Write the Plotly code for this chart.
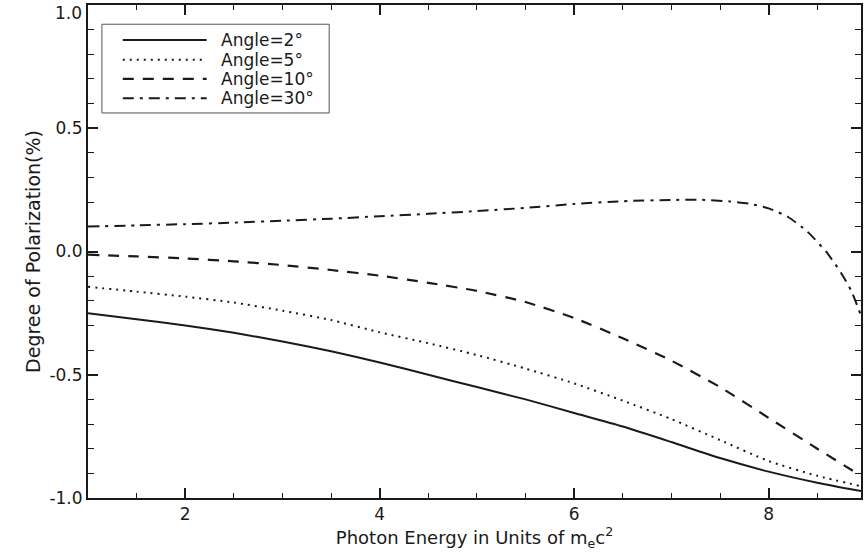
import plotly.graph_objects as go

# ---- data ----
x_common = [1.0, 1.5, 2.0, 2.5, 3.0, 3.5, 4.0, 4.5, 5.0, 5.5, 6.0, 6.5, 7.0, 7.5, 8.0, 8.5, 8.95]
pol_2deg = [-0.25, -0.275, -0.30, -0.33, -0.365, -0.405, -0.45, -0.50, -0.55, -0.60,
            -0.655, -0.71, -0.773, -0.838, -0.893, -0.938, -0.972]
pol_5deg = [-0.143, -0.163, -0.183, -0.207, -0.24, -0.278, -0.328, -0.372, -0.42, -0.475,
            -0.535, -0.605, -0.68, -0.765, -0.85, -0.91, -0.952]
pol_10deg = [-0.013, -0.02, -0.028, -0.04, -0.055, -0.075, -0.098, -0.127, -0.16, -0.205,
             -0.27, -0.352, -0.443, -0.55, -0.675, -0.80, -0.91]
x_30deg = [1.0, 1.5, 2.0, 2.5, 3.0, 3.5, 4.0, 4.5, 5.0, 5.5, 6.0, 6.5, 7.0, 7.3, 7.6,
           7.8, 8.0, 8.2, 8.4, 8.6, 8.75, 8.85, 8.95]
pol_30deg = [0.101, 0.106, 0.111, 0.117, 0.125, 0.133, 0.143, 0.153, 0.164, 0.177, 0.193,
             0.204, 0.209, 0.21, 0.203, 0.194, 0.175, 0.14, 0.08, -0.005, -0.09, -0.16, -0.26]

y_tickvals = [-1.0, -0.5, 0.0, 0.5]
y_ticktext = ["-1.0", "-0.5", "0.0", "0.5"]
y_top_label = "1.0"

labels = ["Angle=2°", "Angle=5°", "Angle=10°", "Angle=30°"]
dashes = ["solid", "2px,5px", "11px,9px", "11px,6px,3px,6px"]
widths = [2, 2, 2.2, 2]

series = [
    (x_common, pol_2deg),
    (x_common, pol_5deg),
    (x_common, pol_10deg),
    (x_30deg, pol_30deg),
]

INK = "#1a1a1a"
FONT = "DejaVu Sans, Liberation Sans, Arial, sans-serif"

fig = go.Figure()
for (xs, ys), name, d, w in zip(series, labels, dashes, widths):
    fig.add_trace(go.Scatter(
        x=xs, y=ys, mode="lines", name=name,
        line=dict(color=INK, width=w, dash=d, shape="spline", smoothing=0.6),
        showlegend=False,
    ))

# ---- legend drawn as a boxed key in the upper left ----
box = dict(x0=0.018, x1=0.312, y0=0.781, y1=0.961)
row_y = [0.929, 0.889, 0.850, 0.811]
shapes = [dict(type="rect", xref="paper", yref="paper", **box,
               line=dict(color="#555555", width=1), fillcolor="white", layer="above")]
annotations = []
for name, d, w, yy in zip(labels, dashes, widths, row_y):
    shapes.append(dict(type="line", xref="paper", yref="paper",
                       x0=0.045, x1=0.1535, y0=yy, y1=yy, layer="above",
                       line=dict(color=INK, width=w, dash=d)))
    annotations.append(dict(xref="paper", yref="paper", x=0.170, y=yy,
                            xanchor="left", yanchor="middle", showarrow=False,
                            text=name, font=dict(family=FONT, size=17, color=INK)))

# top y tick label sits just below the axis top (it would otherwise be cut by the page edge)
annotations.append(dict(xref="paper", yref="paper", x=0, y=1, xanchor="right", yanchor="top",
                        xshift=-4, yshift=4, showarrow=False, text=y_top_label,
                        font=dict(family=FONT, size=17, color=INK)))

axis_common = dict(
    showline=True, linecolor=INK, linewidth=2, mirror="allticks",
    ticks="inside", ticklen=10, tickwidth=1.5, tickcolor=INK,
    showgrid=False, zeroline=False,
    tickfont=dict(family=FONT, size=17, color=INK),
)

fig.update_layout(
    width=864, height=557,
    margin=dict(l=88, r=1, t=5, b=59),
    plot_bgcolor="white", paper_bgcolor="white",
    shapes=shapes, annotations=annotations,
    xaxis=dict(
        range=[1, 8.95], dtick=2, tick0=0,
        minor=dict(dtick=0.5, ticks="inside", ticklen=5, tickcolor=INK, tickwidth=1.2),
        title=dict(text="Photon Energy in Units of m<sub>e</sub>c<sup>2</sup>",
                   font=dict(family=FONT, size=18, color=INK), standoff=6),
        **axis_common,
    ),
    yaxis=dict(
        range=[-1, 1], tickvals=y_tickvals, ticktext=y_ticktext,
        minor=dict(dtick=0.1, ticks="inside", ticklen=6, tickcolor=INK, tickwidth=1.2),
        title=dict(text="Degree of Polarization(%)",
                   font=dict(family=FONT, size=19, color=INK), standoff=4),
        **axis_common,
    ),
)

fig.write_html("out.html")
